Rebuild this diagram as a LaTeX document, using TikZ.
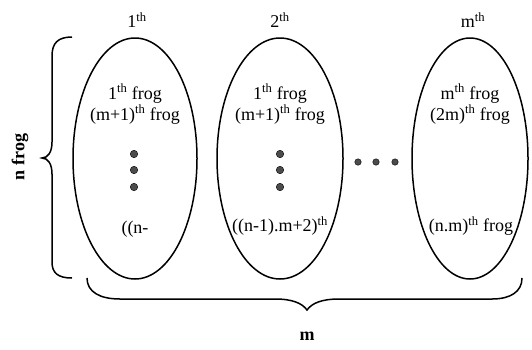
\documentclass[tikz,border=0pt]{standalone}
\usepackage{fontspec}
\setmainfont{Liberation Serif}
\usetikzlibrary{shapes.geometric}

\begin{document}
\begin{tikzpicture}[
  x=1pt, y=-1pt,
  every node/.style={font=\fontsize{18}{21}\selectfont},
  group/.style={draw, ellipse, line width=1.5pt, minimum height=241pt, inner sep=0pt},
  dot/.style={circle, draw=black, fill=black!70, inner sep=0pt, minimum size=7.5pt},
  brace/.style={line width=1.5pt},
  bold/.style={font=\fontsize{18}{21}\selectfont\bfseries}]
\useasboundingbox (0,0) rectangle (532,349);
% columns
\node[group, minimum width=124pt] (col1) at (135,158.5) {};
\node[group, minimum width=126pt] (col2) at (280,158.5) {};
\node[group, minimum width=116pt] (colm) at (470,158.5) {};
% headings
\node (head1) at (137,20) {1\textsuperscript{th}};
\node (head2) at (280,20) {2\textsuperscript{th}};
\node (headm) at (473,20) {m\textsuperscript{th}};
% frogs
\node[align=center] (top1) at (135,104) {1\textsuperscript{th} frog\\(m+1)\textsuperscript{th} frog};
\node[align=center] (top2) at (280,104) {1\textsuperscript{th} frog\\(m+1)\textsuperscript{th} frog};
\node[align=center] (topm) at (470,104) {m\textsuperscript{th} frog\\(2m)\textsuperscript{th} frog};
\node (low1) at (135,229) {((n-};
\node (low2) at (280,226) {((n-1).m+2)\textsuperscript{th}};
\node (lowm) at (471,226) {(n.m)\textsuperscript{th} frog};
% dots
\foreach \y in {154,170,187} {
  \node[dot] (va\y) at (134,\y) {};
  \node[dot] (vb\y) at (280,\y) {};
}
\foreach \x in {358,376,395}
  \node[dot, minimum size=6.5pt] (h\x) at (\x,162) {};
% braces
\draw[brace] (72,37) .. controls (58,37) and (52,43) .. (52,56) -- (52,142)
  .. controls (52,152) and (48,158) .. (42,158)
  .. controls (48,158) and (52,164) .. (52,174) -- (52,262)
  .. controls (52,273) and (58,278) .. (72,278);
\draw[brace] (87,278) .. controls (87,292) and (100,299) .. (120,299) -- (275,299)
  .. controls (292,299) and (302,303) .. (307,310)
  .. controls (312,303) and (322,299) .. (339,299) -- (492,299)
  .. controls (510,299) and (522,292) .. (522,278);
\node[bold, rotate=90] (nlabel) at (20,157) {n frog};
\node[bold] (mlabel) at (307,336) {m};
\end{tikzpicture}
\end{document}
